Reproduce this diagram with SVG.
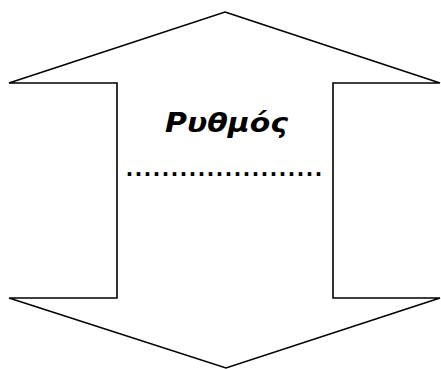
<svg xmlns="http://www.w3.org/2000/svg" width="441" height="369" viewBox="0 0 441 369">
<style>
.shape{fill:#fff;stroke:#000;stroke-width:1.6;stroke-linejoin:miter}
.title{font-family:"DejaVu Sans",sans-serif;font-weight:bold;font-style:italic;font-size:27px;fill:#000}
.dots{font-family:"Liberation Sans",sans-serif;font-weight:bold;font-size:25px;fill:#000}
</style>
<rect width="441" height="369" fill="#fff"/>
<g id="arrow">
<path class="shape" d="M225,12 L440,83 L333,83 L333,298 L440,298 L226,368 L9,298 L117,298 L117,83 L9,83 Z"/>
</g>
<g id="label">
<text class="title" x="165" y="132" textLength="123" lengthAdjust="spacingAndGlyphs">Ρυθμός</text>
<text class="dots" x="126" y="176" textLength="196" lengthAdjust="spacing">......................</text>
</g>
</svg>
